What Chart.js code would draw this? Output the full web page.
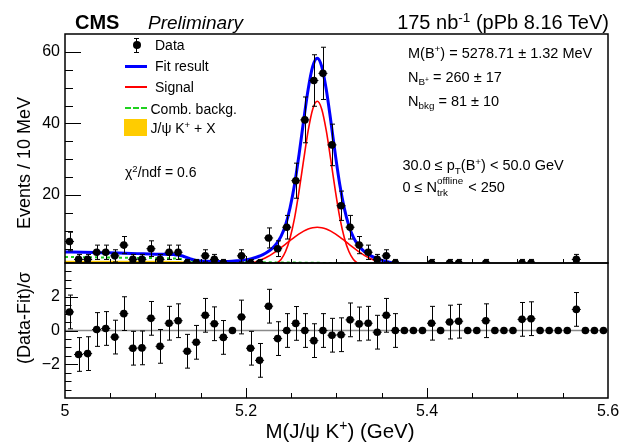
<!DOCTYPE html>
<html>
<head>
<meta charset="utf-8">
<title>B+ mass fit, pPb 8.16 TeV</title>
<script src="https://cdn.jsdelivr.net/npm/chart.js@4.4.1/dist/chart.umd.min.js"></script>
<style>
  html, body { margin: 0; padding: 0; background: #fff; }
  #wrap { position: relative; width: 619px; height: 442px; overflow: hidden; }
  #plot { position: absolute; left: 0; top: 0; }
  .t { position: absolute; white-space: nowrap; line-height: 1; color: #000;
       font-family: "Liberation Sans", Arial, Helvetica, sans-serif; }
  .sup { font-size: 0.68em; position: relative; top: -0.55em; }
  .sub { font-size: 0.68em; position: relative; top: 0.35em; }
  .ss { font-size: 0.68em; display: inline-block; position: relative; width: 2.75em; height: 1em; }
  .ss .a { position: absolute; left: 0; top: -0.58em; }
  .ss .b { position: absolute; left: 0; top: 0.59em; }
  .rot { transform: translate(-50%, -50%) rotate(-90deg); }
  .ctr { transform: translate(-50%, -50%); }
  .sym { position: absolute; }
</style>
</head>
<body>
<div id="wrap">
  <canvas id="plot" width="619" height="442"></canvas>

  <div class="t" style="left:75px;top:12px;font-size:20px;font-weight:bold">CMS</div>
  <div class="t" style="left:148px;top:13px;font-size:19px;font-style:italic">Preliminary</div>
  <div class="t" style="right:10px;top:12px;font-size:20px">175 nb<span class="sup">-1</span> (pPb 8.16 TeV)</div>

  <!-- legend -->
  <div class="sym" style="left:136px;top:38px;width:1px;height:15px;background:#000"></div>
  <div class="sym" style="left:134px;top:38px;width:5px;height:1px;background:#000"></div>
  <div class="sym" style="left:134px;top:52px;width:5px;height:1px;background:#000"></div>
  <div class="sym" style="left:132.5px;top:41px;width:8px;height:8px;border-radius:50%;background:#000"></div>
  <div class="t" style="left:155px;top:38px;font-size:14px">Data</div>

  <div class="sym" style="left:125px;top:64.5px;width:22px;height:3px;background:#0000ff"></div>
  <div class="t" style="left:155px;top:59px;font-size:14px">Fit result</div>

  <div class="sym" style="left:125px;top:86px;width:22px;height:2px;background:#ff0000"></div>
  <div class="t" style="left:155px;top:80px;font-size:14px">Signal</div>

  <div class="sym" style="left:125px;top:107px;width:22px;height:0;border-top:2px dashed #1fd11f"></div>
  <div class="t" style="left:150.5px;top:101.5px;font-size:14px">Comb. backg.</div>

  <div class="sym" style="left:124px;top:119px;width:23px;height:17px;background:#ffcc00"></div>
  <div class="t" style="left:150.5px;top:121px;font-size:14px">J/&psi; K<span class="sup">+</span> + X</div>

  <div class="t" style="left:125px;top:165px;font-size:14px">&chi;<span class="sup">2</span>/ndf = 0.6</div>

  <!-- fit parameters -->
  <div class="t" style="left:408px;top:45.7px;font-size:14.5px">M(B<span class="sup">+</span>) = 5278.71 &plusmn; 1.32 MeV</div>
  <div class="t" style="left:408px;top:70px;font-size:14.5px">N<span class="sub">B<span class="sup">+</span></span> = 260 &plusmn; 17</div>
  <div class="t" style="left:408px;top:94px;font-size:14.5px">N<span class="sub">bkg</span> = 81 &plusmn; 10</div>
  <div class="t" style="left:402.5px;top:158.4px;font-size:14.5px">30.0 &le; p<span class="sub">T</span>(B<span class="sup">+</span>) &lt; 50.0 GeV</div>
  <div class="t" style="left:402.5px;top:180px;font-size:14.5px">0 &le; N<span class="ss"><span class="a">offline</span><span class="b">trk</span></span> &lt; 250</div>

  <!-- axis titles -->
  <div class="t rot" style="left:24px;top:163px;font-size:18px">Events / 10 MeV</div>
  <div class="t rot" style="left:24px;top:318px;font-size:18px">(Data-Fit)/&sigma;</div>
  <div class="t ctr" style="left:340px;top:431px;font-size:20.5px">M(J/&psi; K<span class="sup">+</span>) (GeV)</div>
</div>

<script>
// 10 MeV bins between 5.0 and 5.6 GeV (bin centres)
const massBins = [
  5.005, 5.015, 5.025, 5.035, 5.045, 5.055, 5.065, 5.075, 5.085, 5.095,
  5.105, 5.115, 5.125, 5.135, 5.145, 5.155, 5.165, 5.175, 5.185, 5.195,
  5.205, 5.215, 5.225, 5.235, 5.245, 5.255, 5.265, 5.275, 5.285, 5.295,
  5.305, 5.315, 5.325, 5.335, 5.345, 5.355, 5.365, 5.375, 5.385, 5.395,
  5.405, 5.415, 5.425, 5.435, 5.445, 5.455, 5.465, 5.475, 5.485, 5.495,
  5.505, 5.515, 5.525, 5.535, 5.545, 5.555, 5.565, 5.575, 5.585, 5.595,
];
const counts = [
  7, 2, 2, 4, 4, 3, 6, 2, 2, 5,
  2, 4, 4, 1, 1, 3, 2, 1, 0, 3,
  1, 1, 8, 5, 11, 24, 41, 52, 54, 34,
  17, 11, 6, 4, 2, 3, 1, 0, 0, 0,
  1, 0, 1, 1, 0, 0, 1, 0, 0, 0,
  1, 1, 0, 0, 0, 0, 2, 0, 0, 0,
];
const countErr = [
  2.6, 1.4, 1.4, 2.0, 2.0, 1.7, 2.4, 1.4, 1.4, 2.2,
  1.4, 2.0, 2.0, 1.0, 1.0, 1.7, 1.4, 1.0, 0, 1.7,
  1.0, 1.0, 2.8, 2.2, 3.3, 4.9, 6.4, 7.2, 7.3, 5.8,
  4.1, 3.3, 2.4, 2.0, 1.4, 1.7, 1.0, 0, 0, 0,
  1.0, 0, 1.0, 1.0, 0, 0, 1.0, 0, 0, 0,
  1.0, 1.0, 0, 0, 0, 0, 1.4, 0, 0, 0,
];
const pulls = [
  1.1, -1.42, -1.37, 0.06, 0.12, -0.39, 1.0, -1.05, -1.03, 0.72,
  -0.94, 0.43, 0.58, -1.23, -0.7, 0.9, 0.4, -0.41, 0, 0.8,
  -1.05, -1.77, 1.44, -0.48, 0.0, 0.42, 0.0, -0.6, 0.0, -0.28,
  -0.25, 0.63, 0.39, 0.43, -0.1, 0.9, 0, 0, 0, 0,
  0.43, 0, 0.5, 0.55, 0, 0, 0.58, 0, 0, 0,
  0.66, 0.7, 0, 0, 0, 0, 1.25, 0, 0, 0,
];
const pullErr = [
  1, 1, 1, 1, 1, 1, 1, 1, 1, 1,
  1, 1, 1, 1, 1, 1, 1, 1, 0, 1,
  1, 1, 1, 1, 1, 1, 1, 1, 1, 1,
  1, 1, 1, 1, 1, 1, 1, 0, 0, 0,
  1, 0, 1, 1, 0, 0, 1, 0, 0, 0,
  1, 1, 0, 0, 0, 0, 1, 0, 0, 0,
];

// total fit curve
const fitX = [
  5.000, 5.020, 5.040, 5.060, 5.080, 5.100, 5.110, 5.120, 5.125, 5.130,
  5.135, 5.140, 5.145, 5.150, 5.160, 5.170, 5.180, 5.190, 5.197,
  5.2037, 5.2087, 5.2137, 5.2187, 5.2237, 5.2287, 5.2337, 5.2387, 5.2437, 5.2487,
  5.2537, 5.2587, 5.2637, 5.2687, 5.2737, 5.2787, 5.2837, 5.2887, 5.2937, 5.2987,
  5.3037, 5.3087, 5.3137, 5.3187, 5.3237, 5.3287, 5.3337, 5.3387, 5.3437, 5.3487,
  5.3537, 5.3587, 5.3637, 5.3687, 5.3737,
  5.385, 5.400, 5.450, 5.500, 5.550, 5.600,
];
const fitY = [
  4.1, 4.0, 3.88, 3.76, 3.62, 3.48, 3.42, 3.35, 3.25, 2.95,
  2.5, 2.05, 1.72, 1.55, 1.45, 1.41, 1.43, 1.6, 1.8,
  2.08, 2.40, 2.81, 3.36, 4.07, 5.04, 6.43, 8.45, 11.63, 16.43,
  22.99, 31.47, 40.82, 49.58, 55.93, 58.24, 55.89, 49.5, 40.7, 31.31,
  22.8, 16.2, 11.37, 8.16, 6.1, 4.68, 3.68, 2.93, 2.33, 1.87,
  1.5, 1.21, 0.99, 0.82, 0.69,
  0.55, 0.45, 0.3, 0.22, 0.17, 0.13,
];

// signal components (narrow + wide Gaussian)
const sigX = [
  5.2037, 5.2087, 5.2137, 5.2187, 5.2237, 5.2287, 5.2337, 5.2387, 5.2437, 5.2487,
  5.2537, 5.2587, 5.2637, 5.2687, 5.2737, 5.2787, 5.2837, 5.2887, 5.2937, 5.2987,
  5.3037, 5.3087, 5.3137, 5.3187, 5.3237, 5.3287, 5.3337, 5.3387, 5.3437, 5.3487,
  5.3537, 5.3587, 5.3637, 5.3687, 5.3737,
];
const sigNarrow = [
  0, 0, 0, 0.04, 0.12, 0.35, 0.9, 2.0, 4.2, 8.0,
  13.6, 21.2, 29.8, 38.0, 44.0, 46.2, 44.0, 38.0, 29.8, 21.2,
  13.6, 8.0, 4.2, 2.0, 0.9, 0.35, 0.12, 0.04, 0, 0,
  0, 0, 0, 0, 0,
];
const sigWide = [
  0.83, 1.16, 1.58, 2.10, 2.74, 3.49, 4.34, 5.28, 6.27, 7.28,
  8.26, 9.15, 9.92, 10.5, 10.87, 11.0, 10.87, 10.5, 9.92, 9.15,
  8.26, 7.28, 6.27, 5.28, 4.34, 3.49, 2.74, 2.10, 1.58, 1.16,
  0.83, 0.58, 0.40, 0.27, 0.18,
];

// combinatorial background
const combX = [5.0, 5.02, 5.04, 5.06, 5.08, 5.10, 5.115, 5.125, 5.13, 5.135, 5.14,
               5.145, 5.15, 5.16, 5.18, 5.20, 5.25, 5.30, 5.35, 5.40, 5.50, 5.60];
const combY = [2.7, 2.64, 2.57, 2.5, 2.43, 2.36, 2.3, 2.2, 2.05, 1.85, 1.6,
               1.42, 1.35, 1.32, 1.28, 1.25, 1.13, 0.98, 0.72, 0.5, 0.3, 0.2];

// J/psi K+ X (only the part above the axis floor)
const jpsiX = [5.0, 5.05, 5.10, 5.12, 5.13, 5.135, 5.14, 5.145];
const jpsiY = [1.65, 1.65, 1.62, 1.58, 1.5, 1.35, 1.15, 1.0];

const massTicks = [5.0, 5.2, 5.4, 5.6];
const eventTicks = [20, 40, 60];
const pullTicks = [-2, 0, 2];

const BIN_HALF = 0.005;
const FONT = '"Liberation Sans", Arial, Helvetica, sans-serif';

Chart.defaults.font.family = FONT;
Chart.defaults.color = "#000";

const xy = (xs, ys) => xs.map((x, i) => ({ x, y: ys[i] }));

const dataPoints = massBins
  .map((m, i) => ({ x: m, y: counts[i], e: countErr[i] }))
  .filter((p) => p.y > 0);
const pullPoints = massBins.map((m, i) => ({ x: m, y: pulls[i], e: pullErr[i] }));

function fmtTick(v) {
  const r = Math.round(v * 10) / 10;
  return String(r).replace("-", "\u2212");
}

function curve(label, data, color, width, order, extra) {
  return Object.assign(
    {
      type: "line",
      label,
      data,
      borderColor: color,
      borderWidth: width,
      pointRadius: 0,
      showLine: true,
      fill: false,
      cubicInterpolationMode: "monotone",
      yAxisID: "y",
      clip: 0,
      order,
    },
    extra || {}
  );
}

// ROOT-like frame: inward ticks, error bars, zero line
const rootStyle = {
  id: "rootStyle",
  beforeDatasetsDraw(chart) {
    const { ctx, scales } = chart;
    const p = scales.yPull;
    const y0 = p.getPixelForValue(0);
    ctx.save();
    ctx.strokeStyle = "#8a8a8a";
    ctx.lineWidth = 1.5;
    ctx.beginPath();
    ctx.moveTo(scales.x.left, y0);
    ctx.lineTo(scales.x.right, y0);
    ctx.stroke();
    ctx.restore();
  },
  beforeDatasetDraw(chart, args) {
    const ds = chart.data.datasets[args.index];
    if (!ds.errorBars) return;
    const { ctx } = chart;
    const xs = chart.scales[args.meta.xAxisID];
    const ys = chart.scales[args.meta.yAxisID];
    ctx.save();
    ctx.beginPath();
    ctx.rect(xs.left, ys.top, xs.right - xs.left, ys.bottom - ys.top);
    ctx.clip();
    ctx.strokeStyle = "#000";
    ctx.lineWidth = 1;
    ctx.beginPath();
    ds.data.forEach((pt) => {
      if (!pt.e) return;
      const px = Math.round(xs.getPixelForValue(pt.x)) + 0.5;
      const py = ys.getPixelForValue(pt.y);
      const top = ys.getPixelForValue(pt.y + pt.e);
      const bot = ys.getPixelForValue(pt.y - pt.e);
      ctx.moveTo(px, top);
      ctx.lineTo(px, bot);
      ctx.moveTo(px - 2.5, top);
      ctx.lineTo(px + 2.5, top);
      ctx.moveTo(px - 2.5, bot);
      ctx.lineTo(px + 2.5, bot);
      ctx.moveTo(xs.getPixelForValue(pt.x - BIN_HALF), py);
      ctx.lineTo(xs.getPixelForValue(pt.x + BIN_HALF), py);
    });
    ctx.stroke();
    ctx.restore();
  },
  afterDraw(chart) {
    const { ctx, scales } = chart;
    const x = scales.x, yt = scales.y, yp = scales.yPull;
    ctx.save();
    ctx.strokeStyle = "#000";
    ctx.lineWidth = 1;
    ctx.beginPath();
    // mass ticks on both panels
    for (let v = 5.05; v < 5.58; v += 0.05) {
      const px = Math.round(x.getPixelForValue(v)) + 0.5;
      const major = Math.abs(v / 0.2 - Math.round(v / 0.2)) < 1e-6;
      ctx.moveTo(px, yt.bottom);
      ctx.lineTo(px, yt.bottom - (major ? 7 : 4));
      ctx.moveTo(px, yp.bottom);
      ctx.lineTo(px, yp.bottom - (major ? 10 : 5));
    }
    for (let v = 5; v < 65; v += 5) {
      const py = Math.round(yt.getPixelForValue(v)) + 0.5;
      ctx.moveTo(x.left, py);
      ctx.lineTo(x.left + (v % 20 === 0 ? 16 : 8), py);
    }
    for (let v = -3.5; v < 4; v += 0.5) {
      const py = Math.round(yp.getPixelForValue(v)) + 0.5;
      ctx.moveTo(x.left, py);
      ctx.lineTo(x.left + (v % 2 === 0 ? 13 : 6.5), py);
    }
    ctx.stroke();
    ctx.lineWidth = 1.5;
    ctx.strokeRect(x.left, yt.top, x.right - x.left, yt.bottom - yt.top);
    ctx.strokeRect(x.left, yp.top, x.right - x.left, yp.bottom - yp.top);
    ctx.restore();
  },
};

const tickFont = { family: FONT, size: 16 };
// tick marks are drawn by rootStyle, so Chart.js keeps no room for them
const noGrid = { display: false, drawTicks: false };

new Chart(document.getElementById("plot"), {
  type: "scatter",
  data: {
    datasets: [
      {
        label: "Data",
        data: dataPoints,
        yAxisID: "y",
        pointRadius: 3.8,
        pointBackgroundColor: "#000",
        pointBorderWidth: 0,
        clip: 0,
        order: 0,
        errorBars: true,
      },
      {
        label: "Pull",
        data: pullPoints,
        yAxisID: "yPull",
        pointRadius: 3.8,
        pointBackgroundColor: "#000",
        pointBorderWidth: 0,
        clip: 0,
        order: 0,
        errorBars: true,
      },
      curve("Fit result", xy(fitX, fitY), "#0000ff", 3, 1),
      curve("Signal", xy(sigX, sigNarrow), "#ff0000", 1.6, 2),
      curve("Signal wide", xy(sigX, sigWide), "#ff0000", 1.6, 2),
      curve("Comb. backg.", xy(combX, combY), "#1fd11f", 2, 3, { borderDash: [3, 3] }),
      curve("J/psi K+ X", xy(jpsiX, jpsiY), "#ffcc00", 0, 4, {
        fill: "start",
        backgroundColor: "#ffcc00",
      }),
    ],
  },
  options: {
    responsive: false,
    animation: false,
    events: [],
    devicePixelRatio: 1,
    layout: { padding: { left: 0, right: 11, top: 34, bottom: 0 } },
    plugins: { legend: { display: false }, tooltip: { enabled: false } },
    scales: {
      x: {
        type: "linear",
        position: "bottom",
        min: 5.0,
        max: 5.6,
        grid: noGrid,
        border: { display: false },
        ticks: { font: tickFont, color: "#000", padding: 4, maxRotation: 0, autoSkip: false, callback: fmtTick },
        afterBuildTicks: (s) => { s.ticks = massTicks.map((value) => ({ value })); },
        afterFit: (s) => { s.height = 44; s.paddingLeft = 0; s.paddingRight = 0; },
      },
      // left boxes are laid out in reverse order, so the pull axis goes first
      yPull: {
        type: "linear",
        position: "left",
        stack: "panels",
        stackWeight: 135,
        min: -4,
        max: 4,
        grid: noGrid,
        border: { display: false },
        ticks: { font: tickFont, color: "#000", padding: 5, callback: fmtTick },
        afterBuildTicks: (s) => { s.ticks = pullTicks.map((value) => ({ value })); },
        afterFit: (s) => { s.width = 65; s.paddingTop = 0; s.paddingBottom = 0; },
      },
      y: {
        type: "linear",
        position: "left",
        stack: "panels",
        stackWeight: 229,
        min: 1,
        max: 65,
        grid: noGrid,
        border: { display: false },
        ticks: { font: tickFont, color: "#000", padding: 5, callback: fmtTick },
        afterBuildTicks: (s) => { s.ticks = eventTicks.map((value) => ({ value })); },
        afterFit: (s) => { s.width = 65; s.paddingTop = 0; s.paddingBottom = 0; },
      },
    },
  },
  plugins: [rootStyle],
});
</script>
</body>
</html>
